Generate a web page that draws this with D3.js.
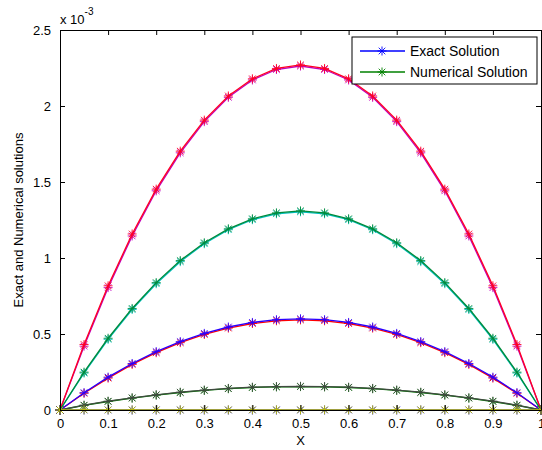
<!DOCTYPE html>
<html><head><meta charset="utf-8">
<script src="https://cdn.jsdelivr.net/npm/d3@7"></script>
<style>body{margin:0;background:#fff}svg{display:block}text{font-family:"Liberation Sans",Arial,sans-serif;fill:#000}</style>
</head><body><div id="chart"></div>
<script>
const xValues = [0,0.05,0.1,0.15,0.2,0.25,0.3,0.35,0.4,0.45,0.5,0.55,0.6,0.65,0.7,0.75,0.8,0.85,0.9,0.95,1];
// values in units of 1e-3
const exactTop   = [0,0.431,0.817,1.158,1.453,1.703,1.907,2.066,2.179,2.247,2.270,2.247,2.179,2.066,1.907,1.703,1.453,1.158,0.817,0.431,0];
const numTop     = [0,0.420,0.805,1.145,1.442,1.692,1.897,2.057,2.171,2.240,2.263,2.240,2.171,2.057,1.897,1.692,1.442,1.145,0.805,0.420,0];
const exactMid   = [0,0.249,0.472,0.668,0.838,0.983,1.100,1.192,1.258,1.297,1.310,1.297,1.258,1.192,1.100,0.983,0.838,0.668,0.472,0.249,0];
const numMid     = [0,0.243,0.465,0.661,0.831,0.976,1.094,1.186,1.252,1.291,1.304,1.291,1.252,1.186,1.094,0.976,0.831,0.661,0.465,0.243,0];
const exactLow   = [0,0.114,0.216,0.306,0.384,0.450,0.504,0.546,0.576,0.594,0.600,0.594,0.576,0.546,0.504,0.450,0.384,0.306,0.216,0.114,0];
const numLow     = [0,0.110,0.210,0.300,0.377,0.443,0.497,0.539,0.569,0.587,0.593,0.587,0.569,0.539,0.497,0.443,0.377,0.300,0.210,0.110,0];
const exactSmall = [0,0.032,0.058,0.080,0.100,0.117,0.131,0.142,0.150,0.154,0.156,0.154,0.150,0.142,0.131,0.117,0.100,0.080,0.058,0.032,0];
const numSmall   = [0,0.030,0.056,0.078,0.098,0.115,0.129,0.140,0.148,0.152,0.154,0.152,0.148,0.140,0.129,0.115,0.098,0.078,0.056,0.030,0];
const exactZero  = [0,0.001,0.001,0.001,0.001,0.001,0.001,0.001,0.001,0.001,0.001,0.001,0.001,0.001,0.001,0.001,0.001,0.001,0.001,0.001,0];
const numZero    = [0,0,0,0,0,0,0,0,0,0,0,0,0,0,0,0,0,0,0,0,0];

const xTicks = [0,0.1,0.2,0.3,0.4,0.5,0.6,0.7,0.8,0.9,1];
const yTicks = [0,0.5,1,1.5,2,2.5];
const legendLabels = ["Exact Solution","Numerical Solution"];

// draw order: numerical first, exact on top
const seriesList = [
  {values:numTop, color:"#bf00bf"},
  {values:numMid, color:"#00bfbf"},
  {values:numLow, color:"#ff0000"},
  {values:numSmall, color:"#008000"},
  {values:numZero, color:"#0000ff"},
  {values:exactTop, color:"#ff0022"},
  {values:exactMid, color:"#008a3a"},
  {values:exactLow, color:"#2a00ff"},
  {values:exactSmall, color:"#404a40"},
  {values:exactZero, color:"#bfbf00"}
];

const W=542,H=450;
const L=60,R=541,T=30,B=410;
const svg=d3.select("#chart").append("svg").attr("width",W).attr("height",H);
const x=d3.scaleLinear().domain([0,1]).range([L,R]);
const y=d3.scaleLinear().domain([0,2.5]).range([B,T]);

const line=d3.line().x((d,i)=>x(xValues[i])).y(d=>y(d));

function star(g,cx,cy,color){
  const r=4.5,d=3.3;
  g.append("path").attr("d",`M${cx-r},${cy}H${cx+r}M${cx},${cy-r}V${cy+r}M${cx-d},${cy-d}L${cx+d},${cy+d}M${cx-d},${cy+d}L${cx+d},${cy-d}`)
   .attr("stroke",color).attr("stroke-width",0.9).attr("fill","none");
}

const plot=svg.append("g");
seriesList.forEach(s=>{
  plot.append("path").datum(s.values).attr("d",line).attr("fill","none").attr("stroke",s.color).attr("stroke-width",1.3);
  s.values.forEach((v,i)=>star(plot,x(xValues[i]),y(v),s.color));
});

// axes box with inward ticks
const axB=svg.append("g").attr("transform",`translate(0,${B})`).call(d3.axisBottom(x).tickValues(xTicks).tickFormat(d3.format("")).tickSizeInner(-5).tickSizeOuter(0).tickPadding(9));
const axT=svg.append("g").attr("transform",`translate(0,${T})`).call(d3.axisTop(x).tickValues(xTicks).tickFormat("").tickSizeInner(-5).tickSizeOuter(0));
const axL=svg.append("g").attr("transform",`translate(${L},0)`).call(d3.axisLeft(y).tickValues(yTicks).tickFormat(d3.format("")).tickSizeInner(-5).tickSizeOuter(0).tickPadding(9));
const axR=svg.append("g").attr("transform",`translate(${R},0)`).call(d3.axisRight(y).tickValues(yTicks).tickFormat("").tickSizeInner(-5).tickSizeOuter(0));
[axB,axT,axL,axR].forEach(a=>{a.selectAll("path,line").attr("stroke","#000");a.selectAll("text").style("font-size","13px").style("font-family","'Liberation Sans',Arial,sans-serif");});
axL.selectAll("text").attr("dy","0.35em");

// exponent label
const ex=svg.append("text").attr("x",60).attr("y",24).style("font-size","13px");
ex.append("tspan").text("x 10");
ex.append("tspan").attr("dy",-9).style("font-size","10px").text("-3");

// axis labels
svg.append("text").attr("x",(L+R)/2).attr("y",445).attr("text-anchor","middle").style("font-size","13px").text("X");
svg.append("text").attr("transform",`translate(23,${(T+B)/2}) rotate(-90)`).attr("text-anchor","middle").style("font-size","13px").text("Exact and Numerical solutions");

// legend
const lg=svg.append("g");
lg.append("rect").attr("x",352).attr("y",37).attr("width",185).attr("height",47).attr("fill","#fff").attr("stroke","#000").attr("stroke-width",1);
const legColors=["#0000ff","#008000"];
legendLabels.forEach((t,i)=>{
  const yy=51+i*21;
  lg.append("line").attr("x1",360).attr("x2",405).attr("y1",yy).attr("y2",yy).attr("stroke",legColors[i]).attr("stroke-width",1.3);
  star(lg,382,yy,legColors[i]);
  lg.append("text").attr("x",410).attr("y",yy+5).style("font-size","14px").text(t);
});
</script></body></html>
